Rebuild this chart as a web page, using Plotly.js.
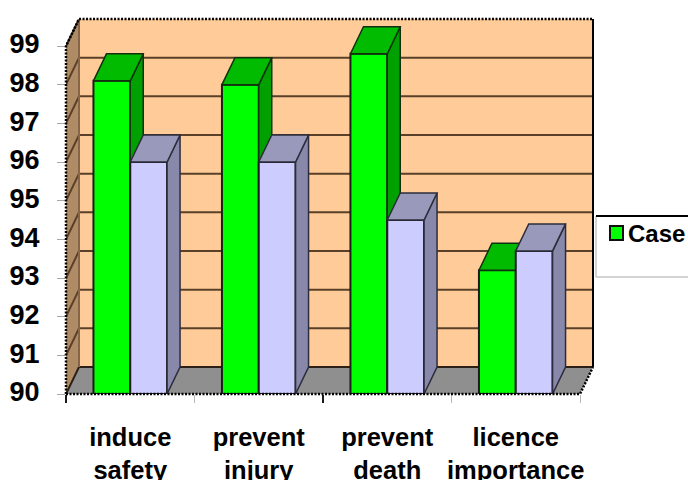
<!DOCTYPE html>
<html>
<head>
<meta charset="utf-8">
<script src="https://cdn.plot.ly/plotly-3.0.1.min.js"></script>
<style>html,body{margin:0;padding:0;background:#fff;overflow:hidden}</style>
</head>
<body>
<div id="chart" style="width:688px;height:480px"></div>
<script>
var categories = ["induce<br>safety", "prevent<br>injury", "prevent<br>death", "licence<br>importance"];
var caseValues = [98.1, 98.0, 98.8, 93.2];
var otherValues = [96.0, 96.0, 94.5, 93.7];
var yTicks = [90, 91, 92, 93, 94, 95, 96, 97, 98, 99];
var seriesName = "Case";

var W = 688, H = 480;
var pxL = 66, pxR = 593, pxT = 19, pxB = 394;
var catN = categories.length;
var yMin = 90, yMax = 99;
var unitX = 128.5, unitY = 38.67;
var depthX = 13 / unitX, depthY = 27 / unitY;
var barW = 36.8 / unitX;
var xLo = -0.5, xHi = catN - 0.5;
var xRange = [xLo, xHi + depthX];
var yRange = [yMin, yMax + depthY];
var xs = categories.map(function (_, i) { return i; });

function faces(values, offset) {
  var side = {x: [], y: []}, top = {x: [], y: []};
  values.forEach(function (v, i) {
    var a = i + offset, b = a + barW;
    side.x.push(b, b + depthX, b + depthX, b, b, null);
    side.y.push(yMin, yMin + depthY, v + depthY, v, yMin, null);
    top.x.push(a, a + depthX, b + depthX, b, a, null);
    top.y.push(v, v + depthY, v + depthY, v, v, null);
  });
  return {side: side, top: top};
}
function poly(p, fill, line, xa, ya) {
  return {type: "scatter", mode: "lines", x: p.x, y: p.y, xaxis: xa, yaxis: ya,
    fill: "toself", fillcolor: fill, line: {color: line, width: 1.5},
    hoverinfo: "skip", showlegend: false};
}
function bar(values, offset, color, name, xa, ya) {
  return {type: "bar", x: xs, y: values.map(function (v) { return v - yMin; }), base: yMin,
    width: barW, offset: offset, name: name, xaxis: xa, yaxis: ya,
    marker: {color: color, line: {color: "#1c1c1c", width: 2}}, showlegend: false};
}

var gOff = -barW, lOff = 0;
var gF = faces(caseValues, gOff), lF = faces(otherValues, lOff);
var traces = [
  poly(gF.side, "#00a000", "#103010", "x", "y"),
  poly(gF.top, "#00bb00", "#103010", "x", "y"),
  bar(caseValues, gOff, "#00ff00", seriesName, "x", "y"),
  poly(lF.side, "#8888aa", "#2c2c3c", "x2", "y2"),
  poly(lF.top, "#9999bb", "#2c2c3c", "x2", "y2"),
  bar(otherValues, lOff, "#ccccff", "Control", "x2", "y2")
];

function path(pts, close) {
  return pts.map(function (p, i) { return (i ? "L" : "M") + p[0] + "," + p[1]; }).join(" ") + (close ? " Z" : "");
}
function dataShape(pts, close, fill, color, width, dash, layer) {
  return {type: "path", xref: "x", yref: "y", path: path(pts, close),
    fillcolor: fill || "rgba(0,0,0,0)", layer: layer || "below",
    line: {color: color, width: width, dash: dash || "solid"}};
}
function px(x) { return (x - pxL) / (pxR - pxL); }
function py(y) { return (pxB - y) / (pxB - pxT); }
function dataToPaper(p) {
  return [(p[0] - xRange[0]) / (xRange[1] - xRange[0]), (p[1] - yRange[0]) / (yRange[1] - yRange[0])];
}
function frameShape(pts, color, width, dash) {
  return {type: "path", xref: "paper", yref: "paper", path: path(pts.map(dataToPaper), false),
    fillcolor: "rgba(0,0,0,0)", layer: "above", line: {color: color, width: width, dash: dash || "solid"}};
}
var bx0 = xLo + depthX, bx1 = xHi + depthX, by0 = yMin + depthY, by1 = yMax + depthY;
var shapes = [
  dataShape([[bx0, by0], [bx0, by1], [bx1, by1], [bx1, by0]], true, "#ffcc99", "#ffcc99", 0),
  dataShape([[xLo, yMin], [bx0, by0], [bx0, by1], [xLo, yMax]], true, "#b08c66", "#b08c66", 0),
  dataShape([[xLo, yMin], [bx0, by0], [bx1, by0], [xHi, yMin]], true, "#8f8f8f", "#8f8f8f", 0)
];
yTicks.forEach(function (v) {
  if (v === yMax) {
    shapes.push(dataShape([[xLo, v], [bx0, v + depthY]], false, null, "#3a2a1c", 2));
    return;
  }
  var color = v === yMin ? "#2a2018" : "#5a4028";
  shapes.push(dataShape([[xLo, v], [bx0, v + depthY], [bx1, v + depthY]], false, null, color, 2));
});
shapes.push(dataShape([[bx0, by0], [bx0, by1]], false, null, "#85664a", 2));
shapes.push(frameShape([[bx1, by0], [bx1, by1]], "#000000", 2));
shapes.push(frameShape([[xLo, yMin], [xLo, yMax], [bx0, by1], [bx1, by1]], "#000000", 2.5, "2px,1.5px"));
shapes.push(frameShape([[xLo, yMin], [xHi, yMin], [bx1, by0]], "#000000", 2.5, "2px,1.5px"));

function paperRect(x0, y0, x1, y1, fill, color, width) {
  return {type: "rect", xref: "paper", yref: "paper", x0: px(x0), x1: px(x1), y0: py(y0), y1: py(y1),
    fillcolor: fill, line: {color: color, width: width}, layer: "above"};
}
shapes.push(paperRect(596, 216, 700, 277, "#ffffff", "#a8a8a8", 1));
shapes.push({type: "line", xref: "paper", yref: "paper", x0: px(596), x1: px(700), y0: py(216), y1: py(216),
  line: {color: "#000000", width: 2}, layer: "above"});
shapes.push(paperRect(610, 226, 623, 240, "#00ff00", "#101010", 2));

var font = "'Liberation Sans', Arial, sans-serif";
var layout = {
  width: W, height: H,
  margin: {l: pxL, r: W - pxR, t: pxT, b: H - pxB, pad: 0},
  paper_bgcolor: "#ffffff", plot_bgcolor: "rgba(0,0,0,0)",
  showlegend: false, barmode: "overlay",
  xaxis: {range: xRange, tickmode: "array", tickvals: xs, ticktext: categories, ticks: "", ticklen: 0,
    showgrid: false, zeroline: false, showline: false, tickangle: 0, fixedrange: true,
    ticklabelstandoff: 25, tickfont: {family: font, size: 25.5, color: "#000000", weight: "bold"}},
  yaxis: {range: yRange, tickmode: "array", tickvals: yTicks, ticks: "outside", ticklen: 8, tickcolor: "#a8a8a8",
    tickwidth: 1, showgrid: false, zeroline: false, showline: false, fixedrange: true, ticklabelstandoff: 12,
    ticklabelshift: -2,
    tickfont: {family: font, size: 27, color: "#000000", weight: "bold"}},
  xaxis2: {range: xRange, overlaying: "x", anchor: "y2", showticklabels: false, tickmode: "array",
    tickvals: [xLo, xLo + 2], ticks: "outside", ticklen: 8, tickwidth: 2, tickcolor: "#1a1a1a",
    minor: {tickmode: "array", tickvals: [xLo + 1, xLo + 3, xLo + 4], ticks: "outside", ticklen: 8, tickcolor: "#b8b8b8", tickwidth: 1},
    showgrid: false, zeroline: false, showline: false, fixedrange: true},
  yaxis2: {range: yRange, overlaying: "y", anchor: "x2", visible: false, fixedrange: true},
  shapes: shapes,
  annotations: [{xref: "paper", yref: "paper", x: px(627), y: py(234), xanchor: "left", yanchor: "middle",
    text: seriesName, showarrow: false, xshift: -1, align: "left",
    font: {family: font, size: 24, color: "#000000", weight: "bold"}}]
};
Plotly.newPlot("chart", traces, layout, {displayModeBar: false, staticPlot: true});
</script>
</body>
</html>
